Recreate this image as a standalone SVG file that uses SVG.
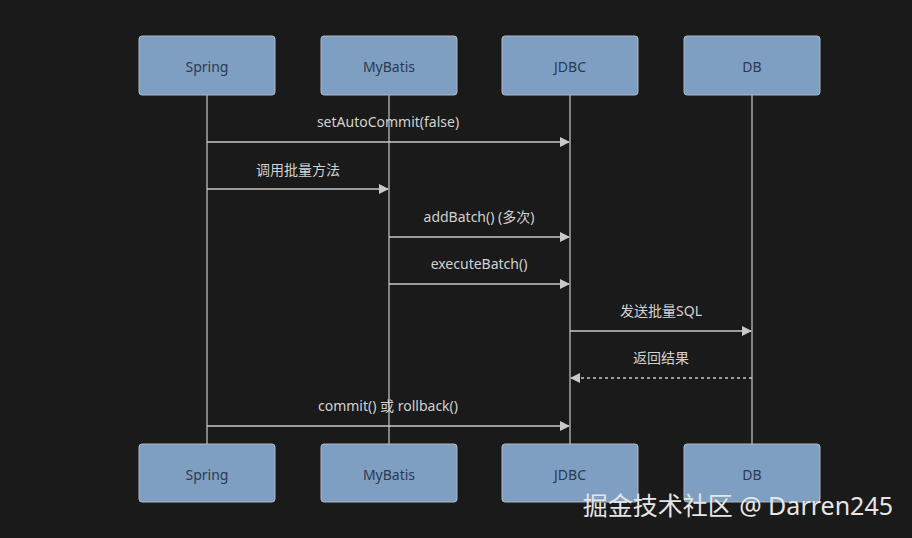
<svg xmlns="http://www.w3.org/2000/svg" width="912" height="538" viewBox="0 0 912 538">
<defs>
<style>
.actor{fill:#7f9fc2;stroke:#b0b8c4;stroke-width:1}
.atext{font-family:"Noto Sans","Noto Sans CJK SC",sans-serif;font-size:14px;fill:#2b3a52;text-anchor:middle}
.life{stroke:#c8c8c8;stroke-width:1.2}
.msg{stroke:#c8c8c8;stroke-width:1.3;fill:none}
.dash{stroke-dasharray:3,3}
.mtext{font-family:"Noto Sans","Noto Sans CJK SC",sans-serif;font-size:14px;fill:#d2d2d2;text-anchor:middle}
</style>
<marker id="arr" viewBox="0 0 10 10" refX="9" refY="5" markerWidth="10" markerHeight="10" markerUnits="userSpaceOnUse" orient="auto">
<path d="M0,0 L10,5 L0,10 z" fill="#c8c8c8"/>
</marker>
</defs>
<rect width="912" height="538" fill="#1a1a1a"/>
<g id="lifelines">
<line class="life" x1="207" y1="95" x2="207" y2="444"/>
<line class="life" x1="389" y1="95" x2="389" y2="444"/>
<line class="life" x1="570" y1="95" x2="570" y2="444"/>
<line class="life" x1="752" y1="95" x2="752" y2="444"/>
</g>
<g id="spring-top"><rect class="actor" x="139" y="36" width="136" height="59" rx="3"/><text class="atext" x="207" y="72">Spring</text></g>
<g id="mybatis-top"><rect class="actor" x="321" y="36" width="136" height="59" rx="3"/><text class="atext" x="389" y="72">MyBatis</text></g>
<g id="jdbc-top"><rect class="actor" x="502" y="36" width="136" height="59" rx="3"/><text class="atext" x="570" y="72">JDBC</text></g>
<g id="db-top"><rect class="actor" x="684" y="36" width="136" height="59" rx="3"/><text class="atext" x="752" y="72">DB</text></g>
<g id="spring-bottom"><rect class="actor" x="139" y="444" width="136" height="58" rx="3"/><text class="atext" x="207" y="480">Spring</text></g>
<g id="mybatis-bottom"><rect class="actor" x="321" y="444" width="136" height="58" rx="3"/><text class="atext" x="389" y="480">MyBatis</text></g>
<g id="jdbc-bottom"><rect class="actor" x="502" y="444" width="136" height="58" rx="3"/><text class="atext" x="570" y="480">JDBC</text></g>
<g id="db-bottom"><rect class="actor" x="684" y="444" width="136" height="58" rx="3"/><text class="atext" x="752" y="480">DB</text></g>
<g id="connectors">
<line class="msg" x1="207" y1="142" x2="569" y2="142" marker-end="url(#arr)"/>
<text class="mtext" x="388" y="127">setAutoCommit(false)</text>
<line class="msg" x1="207" y1="189" x2="388" y2="189" marker-end="url(#arr)"/>
<text class="mtext" x="298" y="175">调用批量方法</text>
<line class="msg" x1="389" y1="237" x2="569" y2="237" marker-end="url(#arr)"/>
<text class="mtext" x="479" y="222">addBatch() (多次)</text>
<line class="msg" x1="389" y1="284" x2="569" y2="284" marker-end="url(#arr)"/>
<text class="mtext" x="479" y="269">executeBatch()</text>
<line class="msg" x1="570" y1="331" x2="751" y2="331" marker-end="url(#arr)"/>
<text class="mtext" x="661" y="316">发送批量SQL</text>
<line class="msg dash" x1="752" y1="378" x2="571" y2="378" marker-end="url(#arr)"/>
<text class="mtext" x="661" y="363">返回结果</text>
<line class="msg" x1="207" y1="426" x2="569" y2="426" marker-end="url(#arr)"/>
<text class="mtext" x="388" y="411">commit() 或 rollback()</text>
</g>
<text x="893" y="515" font-family="Noto Sans,Noto Sans CJK SC,sans-serif" font-size="25" fill="#e6e6e6" text-anchor="end">掘金技术社区 @ Darren245</text>
</svg>
